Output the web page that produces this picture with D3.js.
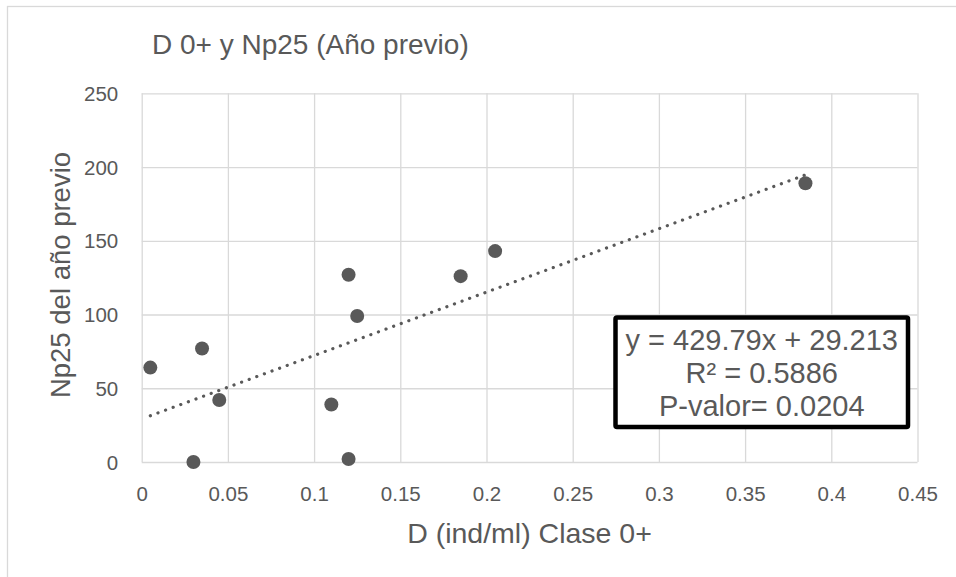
<!DOCTYPE html>
<html>
<head>
<meta charset="utf-8">
<script src="https://cdn.jsdelivr.net/npm/d3@7/dist/d3.min.js"></script>
<style>
  html, body { margin: 0; padding: 0; background: #fff; }
  svg { display: block; }
  text { font-family: "Liberation Sans", Arial, sans-serif; fill: #595959; }
</style>
</head>
<body>
<svg id="chart" width="956" height="577"></svg>
<script>
// Density of class 0+ (ind/ml) against Np25 of the previous year
const densidad = [0.005, 0.035, 0.045, 0.030, 0.120, 0.125, 0.110, 0.120, 0.185, 0.205, 0.385];
const np25Previo = [64, 77, 42, 0, 127, 99, 39, 2, 126, 143, 189];

const xTicks = [0, 0.05, 0.1, 0.15, 0.2, 0.25, 0.3, 0.35, 0.4, 0.45];
const yTicks = [0, 50, 100, 150, 200, 250];

// Linear trend as reported in the annotation box
const tendencia = [429.79, 29.213]; // slope, intercept
const anotacion = ["y = 429.79x + 29.213", "R² = 0.5886", "P-valor= 0.0204"];

const titulo = "D 0+ y Np25 (Año previo)";
const tituloX = "D (ind/ml) Clase 0+";
const tituloY = "Np25 del año previo";

const svg = d3.select("#chart");
const grey = "#595959";
const gridColor = "#d9d9d9";

// outer chart frame
svg.append("rect")
  .attr("x", 7.5).attr("y", 6.5)
  .attr("width", 1000).attr("height", 700)
  .attr("fill", "#fff")
  .attr("stroke", gridColor).attr("stroke-width", 1.3);

const plot = { left: 141.7, right: 917.5, top: 93.3, bottom: 462 };

const x = d3.scaleLinear().domain([0, 0.45]).range([plot.left, plot.right]);
const y = d3.scaleLinear().domain([0, 250]).range([plot.bottom, plot.top]);

// vertical gridlines
const xAxis = d3.axisBottom(x).tickValues(xTicks).tickSize(-(plot.bottom - plot.top))
  .tickFormat(d => d3.format("")(+d.toFixed(2)));
const gx = svg.append("g").attr("transform", `translate(0,${plot.bottom})`).call(xAxis);
gx.select(".domain").remove();
gx.selectAll(".tick line").attr("stroke", gridColor).attr("stroke-width", 1.3);
gx.selectAll(".tick text")
  .attr("y", 0).attr("dy", 0)
  .attr("transform", "translate(0,39)")
  .style("font-size", "20.5px")
  .style("font-family", "'Liberation Sans', Arial, sans-serif")
  .attr("fill", grey);

// horizontal gridlines
const yAxis = d3.axisLeft(y).tickValues(yTicks).tickSize(-(plot.right - plot.left));
const gy = svg.append("g").attr("transform", `translate(${plot.left},0)`).call(yAxis);
gy.select(".domain").remove();
gy.selectAll(".tick line").attr("stroke", gridColor).attr("stroke-width", 1.3);
gy.selectAll(".tick text")
  .attr("x", -23.5).attr("dy", "0.35em")
  .style("font-size", "20.5px")
  .style("font-family", "'Liberation Sans', Arial, sans-serif")
  .attr("fill", grey);

// dotted trend line over the observed range of x
const xr = d3.extent(densidad);
const lineaTend = xr.map(v => [v, tendencia[0] * v + tendencia[1]]);
svg.append("path")
  .datum(lineaTend)
  .attr("d", d3.line().x(d => x(d[0])).y(d => y(d[1])))
  .attr("fill", "none")
  .attr("stroke", grey)
  .attr("stroke-width", 3.2)
  .attr("stroke-linecap", "round")
  .attr("stroke-dasharray", "0.1 8");

// observations
svg.append("g").selectAll("circle")
  .data(densidad.map((d, i) => [d, np25Previo[i]]))
  .join("circle")
  .attr("cx", d => x(d[0]))
  .attr("cy", d => y(d[1]))
  .attr("r", 7)
  .attr("fill", grey);

// annotation box
const box = { x: 615.5, y: 317.5, w: 292.5, h: 109.5 };
svg.append("rect")
  .attr("x", box.x).attr("y", box.y)
  .attr("width", box.w).attr("height", box.h)
  .attr("rx", 1.5)
  .attr("fill", "#fff")
  .attr("stroke", "#000")
  .attr("stroke-width", 4.5);
svg.append("g").selectAll("text")
  .data(anotacion)
  .join("text")
  .attr("x", box.x + box.w / 2)
  .attr("y", (d, i) => 349.5 + i * 33)
  .attr("text-anchor", "middle")
  .style("font-size", "29px")
  .text(d => d);

// titles
svg.append("text")
  .attr("x", 152).attr("y", 53.5)
  .style("font-size", "28px")
  .text(titulo);

svg.append("text")
  .attr("x", 529.5).attr("y", 543)
  .attr("text-anchor", "middle")
  .style("font-size", "28.5px")
  .text(tituloX);

svg.append("text")
  .attr("transform", "translate(70,275) rotate(-90)")
  .attr("text-anchor", "middle")
  .style("font-size", "27.5px")
  .text(tituloY);
</script>
</body>
</html>
